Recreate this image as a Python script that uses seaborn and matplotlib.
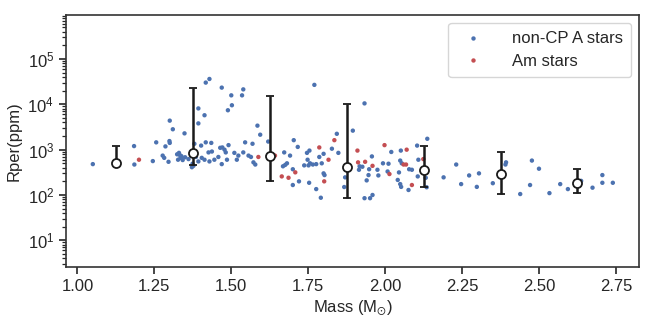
import matplotlib
matplotlib.use("Agg")
import matplotlib.pyplot as plt
import numpy as np
import pandas as pd
import seaborn as sns

# non-CP A stars: mass (Msun) and Rper (ppm)
noncp_mass = [1.050, 1.184, 1.185, 1.245, 1.256, 1.286, 1.277, 1.282, 1.296, 1.299,
              1.300, 1.300, 1.310, 1.348, 1.324, 1.330, 1.333, 1.338, 1.335, 1.342,
              1.327, 1.350, 1.361, 1.374, 1.377, 1.372, 1.380, 1.402, 1.417, 1.435,
              1.464, 1.471, 1.478, 1.491, 1.426, 1.437, 1.458, 1.482, 1.510, 1.523,
              1.539, 1.545, 1.569, 1.556, 1.564, 1.404, 1.413, 1.393, 1.429, 1.445,
              1.469, 1.486, 1.518, 1.572, 1.578, 1.385,
              1.417, 1.429, 1.469, 1.539, 1.535, 1.500, 1.502, 1.489, 1.393, 1.413,
              1.393, 1.585, 1.594, 1.620,
              1.770, 1.843, 1.895, 1.672, 1.691, 1.703, 1.716, 1.668, 1.675, 1.681,
              1.700, 1.700, 1.720, 1.746, 1.754, 1.748, 1.756, 1.737, 1.751, 1.765,
              1.776, 1.786, 1.800, 1.794, 1.800, 1.803, 1.827, 1.848, 1.753, 1.776,
              1.791, 1.917, 1.915, 1.870, 1.867,
              1.933, 2.137, 2.020, 2.051, 2.104, 1.957, 1.926, 1.948, 1.993, 2.011,
              2.049, 2.054, 2.078, 2.087, 1.975, 1.946, 1.978, 2.008, 2.045, 2.108,
              2.106, 2.132, 2.135, 1.940, 2.041, 2.049, 2.052, 2.076, 1.933, 1.951,
              1.959, 2.135,
              2.190, 2.231, 2.247, 2.273, 2.305, 2.298, 2.350, 2.393, 2.391, 2.477,
              2.471, 2.439, 2.500, 2.534, 2.569, 2.594, 2.637, 2.674, 2.706, 2.706,
              2.740]
noncp_rper = [480, 1200, 470, 560, 1450, 1180, 740, 660, 540, 1550,
              1410, 4370, 2820, 2290, 790, 850, 760, 720, 660, 590,
              600, 680, 620, 490, 440, 410, 1350, 1230, 1450, 1410,
              1100, 1120, 1000, 1260, 870, 910, 690, 870, 850, 740,
              870, 1450, 1350, 740, 690, 660, 600, 550, 550, 600,
              480, 600, 600, 525, 470, 690,
              30200, 36300, 23400, 21400, 15800, 15800, 9550, 7410, 8130, 5750,
              3800, 3390, 2140, 1510,
              26900, 2240, 2630, 870, 740, 1620, 1150, 430, 460, 500,
              370, 166, 200, 850, 955, 600, 500, 450, 450, 470,
              480, 690, 810, 500, 300, 275, 1050, 850, 186, 135,
              87, 430, 360, 245, 150,
              10500, 1740, 890, 955, 1230, 710, 420, 370, 500, 490,
              575, 500, 370, 360, 360, 275, 270, 330, 315, 600,
              257, 240, 370, 210, 215, 174, 151, 129, 85, 85,
              100, 148,
              245, 470, 174, 270, 300, 151, 182, 525, 470, 575,
              166, 105, 380, 110, 174, 135, 205, 145, 275, 186,
              186]

# Am stars
am_mass = [1.200, 1.588, 1.642, 1.708, 1.664, 1.686, 1.816, 1.835, 1.786, 1.802,
           1.910, 1.912, 1.998, 2.070, 1.935, 1.959, 2.060, 2.068, 2.014, 2.124,
           2.087]
am_rper = [600, 690, 740, 316, 257, 240, 600, 1620, 1120, 200,
           955, 525, 1260, 1000, 540, 440, 470, 470, 290, 620,
           166]

# binned medians with ranges
bin_mass = [1.125, 1.375, 1.625, 1.875, 2.125, 2.375, 2.625]
bin_median = [500, 845, 735, 425, 360, 290, 182]
bin_low = [465, 465, 205, 88, 148, 106, 109]
bin_high = [1180, 23500, 15200, 10400, 1230, 890, 370]

sns.set_theme(style="ticks")
plt.rcParams["font.family"] = ["Liberation Sans", "DejaVu Sans"]
plt.rcParams["mathtext.default"] = "regular"

df = pd.DataFrame({
    "mass": noncp_mass + am_mass,
    "rper": noncp_rper + am_rper,
    "type": ["non-CP A stars"] * len(noncp_mass) + ["Am stars"] * len(am_mass),
})

fig = plt.figure(figsize=(6.54, 3.27), dpi=100)
ax = fig.add_axes([0.101, 0.184, 0.8765, 0.771])

sns.scatterplot(data=df, x="mass", y="rper", hue="type",
                palette={"non-CP A stars": "#4C72B0", "Am stars": "#C44E52"},
                s=10, linewidth=0, ax=ax, zorder=2)

med = np.array(bin_median)
yerr = [med - np.array(bin_low), np.array(bin_high) - med]
ax.errorbar(bin_mass, med, yerr=yerr, fmt="o", color="#1a1a1a", ecolor="#1a1a1a",
            mfc="white", mec="#1a1a1a", ms=6.5, mew=1.3, elinewidth=1.8,
            capsize=3.2, capthick=1.8, zorder=3)

ax.set_yscale("log")
ax.set_ylim(2.6, 9.5e5)
ax.set_xlim(0.963, 2.826)
ax.set_xticks([1.00, 1.25, 1.50, 1.75, 2.00, 2.25, 2.50, 2.75])
ax.set_xticklabels(["1.00", "1.25", "1.50", "1.75", "2.00", "2.25", "2.50", "2.75"])
ax.tick_params(axis="both", which="major", labelsize=12, length=5, width=1.2)
ax.tick_params(axis="y", which="minor", length=3, width=0.9)
ax.set_xlabel(r"Mass (M$_{\odot}$)", fontsize=12)
ax.set_ylabel("Rper(ppm)", fontsize=12)
for sp in ax.spines.values():
    sp.set_visible(True)
    sp.set_linewidth(1.2)
    sp.set_color("#333333")

handles, labels = ax.get_legend_handles_labels()
ax.legend(handles[:2], labels[:2], loc="upper right", fontsize=12,
          markerscale=1.0, handletextpad=1.3, borderpad=0.5, labelspacing=0.45,
          frameon=True)

fig.savefig("out.png", dpi=100)
